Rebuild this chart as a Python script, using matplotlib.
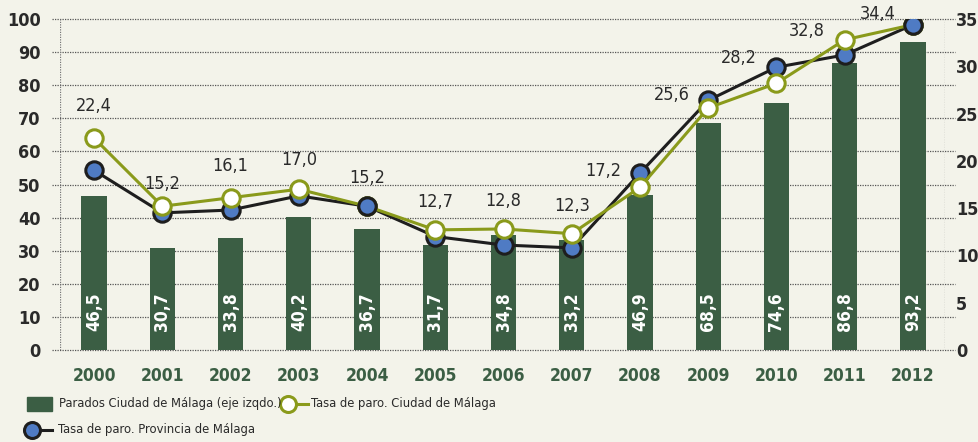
import matplotlib.pyplot as plt
import numpy as np
from matplotlib.lines import Line2D
from matplotlib.patches import Rectangle
from matplotlib.transforms import blended_transform_factory

years = ['2000', '2001', '2002', '2003', '2004', '2005', '2006',
         '2007', '2008', '2009', '2010', '2011', '2012']
parados_ciudad = [46.5, 30.7, 33.8, 40.2, 36.7, 31.7, 34.8, 33.2,
                  46.9, 68.5, 74.6, 86.8, 93.2]
tasa_ciudad = [22.4, 15.2, 16.1, 17.0, 15.2, 12.7, 12.8, 12.3,
               17.2, 25.6, 28.2, 32.8, 34.4]
tasa_provincia = [19.0, 14.5, 14.8, 16.3, 15.2, 12.0, 11.1, 10.8,
                  18.7, 26.4, 29.9, 31.2, 34.4]

# label offsets (pixels) for the city rate values
lbl_off = [(0, 32), (0, 22), (0, 32), (0, 29), (0, 28), (0, 28), (0, 28),
           (0, 28), (-37, 16), (-36, 13), (-38, 25), (-38, 9), (-35, 11)]

BG = '#f3f3ea'
BAR = '#3b5e44'
OLIVE = '#8a9a1b'
BLUE = '#4f7bc4'
DARK = '#1e1e1e'
MS = 12.5

plt.rcParams['font.family'] = ['DejaVu Sans']
plt.rcParams['font.stretch'] = 'condensed'

fig = plt.figure(figsize=(9.79, 4.42), dpi=100, facecolor=BG)
ax = fig.add_axes([60 / 979, 92 / 442, 885 / 979, 331 / 442])
ax.set_facecolor(BG)
ax2 = ax.twinx()

x = np.arange(len(years))
ax.bar(x, parados_ciudad, width=0.37, color=BAR, zorder=2)
for xi, v in zip(x, parados_ciudad):
    ax.text(xi, 11.5, f'{v:.1f}'.replace('.', ','), rotation=90,
            ha='center', va='center', color='white', fontsize=12.5,
            fontweight='bold', zorder=3)

ax.set_xlim(-0.5, 12.47)
ax.set_ylim(0, 100)
ax2.set_ylim(0, 35)
ax.set_yticks(range(0, 101, 10))
ax2.set_yticks(range(0, 36, 5))

# dotted gridlines that poke slightly past both axes
trans = blended_transform_factory(ax.transAxes, ax.transData)
for yv in range(0, 101, 10):
    ax.plot([-0.009, 1.011], [yv, yv], transform=trans, ls=(0, (1, 1)),
            lw=0.9, color='#555555', clip_on=False, zorder=1)

for a in (ax, ax2):
    for s in a.spines.values():
        s.set_visible(False)
    a.tick_params(length=0)
for xv in (-0.5, 12.47):
    ax.axvline(xv, ls=(0, (1, 1)), lw=0.9, color='#777777', zorder=1)

ax.set_xticks(x)
ax.set_xticklabels(years, fontsize=12.5, fontweight='bold', color=BAR)
ax.tick_params(axis='x', pad=12)
ax.tick_params(axis='y', pad=14, labelsize=13, labelcolor='#2a2a2a')
ax2.tick_params(axis='y', pad=8, labelsize=13, labelcolor='#2a2a2a')
for lab in ax.get_yticklabels() + ax2.get_yticklabels():
    lab.set_fontweight('bold')

ax2.plot(x, tasa_provincia, color=DARK, lw=2.2, marker='o', ms=MS,
         mfc=BLUE, mec=DARK, mew=2.2, zorder=3)
ax2.plot(x, tasa_ciudad, color=OLIVE, lw=2.2, marker='o', ms=MS,
         mfc='white', mec=OLIVE, mew=2.2, zorder=4)
# where both rates coincide the province marker sits on top
same = np.isclose(tasa_ciudad, tasa_provincia)
ax2.plot(x[same], np.array(tasa_provincia)[same], ls='none', marker='o',
         ms=MS, mfc=BLUE, mec=DARK, mew=2.2, zorder=5)

for xi, v, off in zip(x, tasa_ciudad, lbl_off):
    ax2.annotate(f'{v:.1f}'.replace('.', ','), (xi, v), xytext=off,
                 textcoords='offset pixels', ha='center', va='center',
                 fontsize=13, color='#2a2a2a', zorder=6)

# legend
fx = lambda px: px / 979
fy = lambda py: 1 - py / 442
fig.add_artist(Rectangle((fx(27), fy(411)), fx(25), 14 / 442,
                         color=BAR, transform=fig.transFigure))
fig.text(fx(59), fy(404), 'Parados Ciudad de Málaga (eje izqdo.)',
         fontsize=9.3, va='center', color='#2a2a2a')
fig.add_artist(Line2D([fx(288), fx(308)], [fy(404), fy(404)], color=OLIVE,
                      lw=2.2, transform=fig.transFigure))
fig.add_artist(Line2D([fx(288)], [fy(404)], marker='o', ms=MS - 1,
                      mfc='white', mec=OLIVE, mew=2.2,
                      transform=fig.transFigure))
fig.text(fx(311), fy(404), 'Tasa de paro. Ciudad de Málaga',
         fontsize=9.3, va='center', color='#2a2a2a')
fig.add_artist(Line2D([fx(32), fx(52)], [fy(430), fy(430)], color=DARK,
                      lw=2.2, transform=fig.transFigure))
fig.add_artist(Line2D([fx(32)], [fy(430)], marker='o', ms=MS - 1, mfc=BLUE,
                      mec=DARK, mew=2.2, transform=fig.transFigure))
fig.text(fx(58), fy(430), 'Tasa de paro. Provincia de Málaga',
         fontsize=9.3, va='center', color='#2a2a2a')

fig.savefig('out.png', dpi=100, facecolor=BG)
